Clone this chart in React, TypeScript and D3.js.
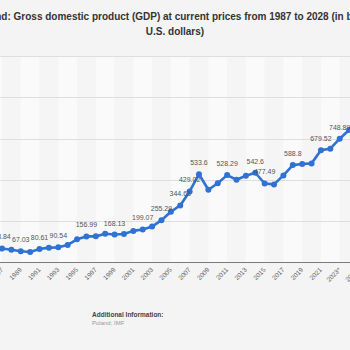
import { useEffect, useRef } from "react";
import * as d3 from "d3";

// 年（予測値は * 付き）
const years = [
  "1987", "1988", "1989", "1990", "1991", "1992", "1993", "1994", "1995", "1996",
  "1997", "1998", "1999", "2000", "2001", "2002", "2003", "2004", "2005", "2006",
  "2007", "2008", "2009", "2010", "2011", "2012", "2013", "2014", "2015", "2016",
  "2017", "2018", "2019", "2020", "2021", "2022", "2023*", "2024*", "2025*", "2026*",
  "2027*", "2028*",
];

// GDP（10億米ドル）
const gdpValues = [
  83.84, 76.5, 67.03, 62.1, 80.61, 88.8, 90.54, 105.2, 139.1, 156.99,
  157.1, 172.6, 168.13, 171.9, 190.4, 199.07, 216.6, 255.29, 306.1, 344.63,
  429.02, 533.6, 439.8, 479.3, 528.29, 500.3, 524.2, 542.6, 477.49, 472.0,
  526.5, 588.8, 596.0, 599.4, 679.52, 688.2, 748.89, 802.0, 855.0, 905.0,
  955.0, 1005.0,
];

// 値ラベルを表示する年
const labeledYears = [
  "1987", "1989", "1991", "1993", "1996", "1999", "2002", "2004", "2006", "2007",
  "2008", "2011", "2014", "2015", "2018", "2021", "2023*", "2025*", "2027*",
];

// X軸の目盛り（2年ごと）
const tickYears = years.filter((_, i) => i % 2 === 0);

const yTicks = [0, 250, 500, 750, 1000, 1250];

const title1 = "Poland: Gross domestic product (GDP) at current prices from 1987 to 2028 (in billion";
const title2 = "U.S. dollars)";

export default function App() {
  const svgRef = useRef<SVGSVGElement>(null);

  useEffect(() => {
    if (!svgRef.current) return;
    const svg = d3.select(svgRef.current);
    svg.selectAll("*").remove();

    const W = 350;
    const H = 350;
    const font = "'Liberation Sans', Arial, sans-serif";

    svg.attr("width", W).attr("height", H);
    svg.append("rect").attr("width", W).attr("height", H).attr("fill", "#f4f4f4");

    const x = d3.scalePoint<string>().domain(years).range([2, 386.6]);
    const y = d3.scaleLinear().domain([0, 1250]).range([262.3, 56]);
    const step = x.step();

    // 縦の帯
    tickYears.forEach((yr, i) => {
      const x0 = x(yr) ?? 0;
      svg
        .append("rect")
        .attr("x", x0)
        .attr("y", y(1250))
        .attr("width", step * 2)
        .attr("height", y(0) - y(1250))
        .attr("fill", i % 2 === 1 ? "#fafafa" : "#f5f5f5");
    });
    svg
      .append("rect")
      .attr("x", -20)
      .attr("y", y(1250))
      .attr("width", 22)
      .attr("height", y(0) - y(1250))
      .attr("fill", "#fafafa");

    // Y軸のグリッド線
    svg
      .append("g")
      .selectAll("line")
      .data(yTicks.filter((t) => t > 0))
      .enter()
      .append("line")
      .attr("x1", 0)
      .attr("x2", W)
      .attr("y1", (d) => Math.round(y(d)) + 0.5)
      .attr("y2", (d) => Math.round(y(d)) + 0.5)
      .attr("stroke", "#dedede")
      .attr("stroke-width", 1);

    // ベースライン
    svg
      .append("line")
      .attr("x1", 0)
      .attr("x2", W)
      .attr("y1", Math.round(y(0)) + 0.5)
      .attr("y2", Math.round(y(0)) + 0.5)
      .attr("stroke", "#7a7a7a")
      .attr("stroke-width", 1);

    // X軸ラベル
    svg
      .append("g")
      .selectAll("text")
      .data(tickYears)
      .enter()
      .append("text")
      .attr("transform", (d) => `translate(${(x(d) ?? 0) + 1.5},${y(0) + 8}) rotate(-45)`)
      .attr("text-anchor", "end")
      .attr("font-family", font)
      .attr("font-size", 6.5)
      .attr("fill", "#666")
      .text((d) => d);

    // 折れ線
    const pts = years.map((yr, i) => ({ year: yr, value: gdpValues[i] }));
    const line = d3
      .line<{ year: string; value: number }>()
      .x((d) => x(d.year) ?? 0)
      .y((d) => y(d.value));

    svg
      .append("path")
      .datum(pts)
      .attr("d", line)
      .attr("fill", "none")
      .attr("stroke", "#2f72d3")
      .attr("stroke-width", 2.6)
      .attr("stroke-linejoin", "round");

    svg
      .append("g")
      .selectAll("circle")
      .data(pts)
      .enter()
      .append("circle")
      .attr("cx", (d) => x(d.year) ?? 0)
      .attr("cy", (d) => y(d.value))
      .attr("r", 3)
      .attr("fill", "#2f72d3");

    // 値ラベル
    svg
      .append("g")
      .selectAll("text")
      .data(pts.filter((d) => labeledYears.includes(d.year)))
      .enter()
      .append("text")
      .attr("x", (d) => x(d.year) ?? 0)
      .attr("y", (d) => y(d.value) - 9)
      .attr("text-anchor", "middle")
      .attr("font-family", font)
      .attr("font-size", 7)
      .attr("fill", "#555")
      .text((d) => String(d.value));

    // タイトル
    svg
      .append("text")
      .attr("x", 175)
      .attr("y", 19.5)
      .attr("text-anchor", "middle")
      .attr("font-family", font)
      .attr("font-size", 10)
      .attr("font-weight", "bold")
      .attr("fill", "#333")
      .text(title1);
    svg
      .append("text")
      .attr("x", 175)
      .attr("y", 34.5)
      .attr("text-anchor", "middle")
      .attr("font-family", font)
      .attr("font-size", 10)
      .attr("font-weight", "bold")
      .attr("fill", "#333")
      .text(title2);

    // 補足情報
    svg
      .append("text")
      .attr("x", 92)
      .attr("y", 316.5)
      .attr("font-family", font)
      .attr("font-size", 6.5)
      .attr("font-weight", "bold")
      .attr("fill", "#444")
      .text("Additional Information:");
    svg
      .append("text")
      .attr("x", 92)
      .attr("y", 324.5)
      .attr("font-family", font)
      .attr("font-size", 6)
      .attr("fill", "#999")
      .text("Poland; IMF");
  }, []);

  return (
    <svg
      ref={svgRef}
      style={{ position: "absolute", left: 0, top: 0, display: "block", overflow: "hidden" }}
    />
  );
}
